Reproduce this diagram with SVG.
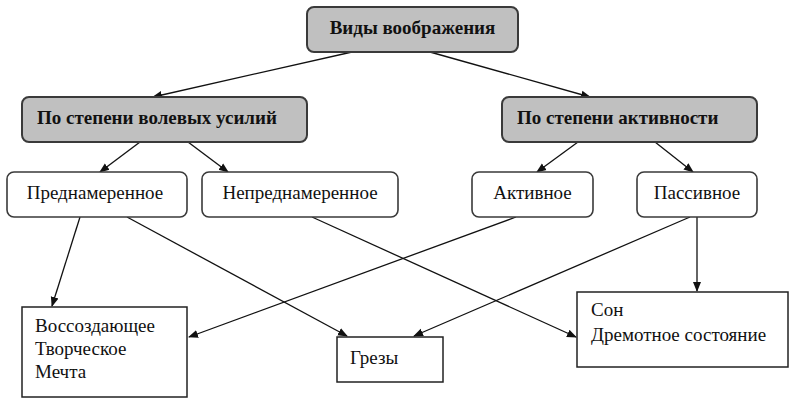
<svg xmlns="http://www.w3.org/2000/svg" width="804" height="403" viewBox="0 0 804 403">
<defs>
<marker id="ah" markerWidth="10" markerHeight="10" refX="9" refY="5" orient="auto" markerUnits="userSpaceOnUse">
<path d="M0,1 L10,5 L0,9 z" fill="#111"/>
</marker>
<style>
.g{fill:#c0c0c0;stroke:#3a3a3a;stroke-width:2}
.w{fill:#fff;stroke:#3a3a3a;stroke-width:1.6}
.s{fill:#fff;stroke:#222;stroke-width:1.5}
.c{stroke:#111;stroke-width:1.3;fill:none;marker-end:url(#ah)}
</style>
</defs>
<rect width="804" height="403" fill="#fff"/>
<g id="connectors">
<line class="c" x1="352" y1="52" x2="153" y2="97"/>
<line class="c" x1="430" y1="52" x2="590" y2="97"/>
<line class="c" x1="140" y1="142" x2="100" y2="172"/>
<line class="c" x1="188" y1="142" x2="228" y2="172"/>
<line class="c" x1="578" y1="142" x2="537" y2="172"/>
<line class="c" x1="655" y1="142" x2="693" y2="172"/>
<line class="c" x1="80" y1="217" x2="52" y2="306"/>
<line class="c" x1="127" y1="217" x2="347" y2="336"/>
<line class="c" x1="312" y1="217" x2="576" y2="337"/>
<line class="c" x1="516" y1="217" x2="189" y2="337"/>
<line class="c" x1="690" y1="217" x2="414" y2="336"/>
<line class="c" x1="697" y1="217" x2="697" y2="291"/>
</g>
<g font-family="Liberation Serif, DejaVu Serif, serif" font-size="19" fill="#111">
<g id="n0"><rect class="g" x="307" y="7" width="211" height="45" rx="7"/><text font-weight="bold" x="412.5" y="34" text-anchor="middle">Виды воображения</text></g>
<g id="n1"><rect class="g" x="22" y="97" width="285" height="45" rx="7"/><text font-weight="bold" x="37" y="124">По степени волевых усилий</text></g>
<g id="n2"><rect class="g" x="502" y="97" width="255" height="45" rx="7"/><text font-weight="bold" x="517" y="124">По степени активности</text></g>
<g id="n3"><rect class="w" x="7" y="172" width="180" height="45" rx="7"/><text x="95" y="199" text-anchor="middle">Преднамеренное</text></g>
<g id="n4"><rect class="w" x="202" y="172" width="196" height="45" rx="7"/><text x="300" y="199" text-anchor="middle">Непреднамеренное</text></g>
<g id="n5"><rect class="w" x="472" y="172" width="121" height="45" rx="7"/><text x="532.5" y="199" text-anchor="middle">Активное</text></g>
<g id="n6"><rect class="w" x="637" y="172" width="120" height="45" rx="7"/><text x="697" y="199" text-anchor="middle">Пассивное</text></g>
<g id="n7"><rect class="s" x="22" y="307" width="165" height="90"/><text x="35" y="332">Воссоздающее</text><text x="35" y="355">Творческое</text><text x="35" y="378">Мечта</text></g>
<g id="n8"><rect class="s" x="337" y="337" width="106" height="45"/><text x="350" y="364">Грезы</text></g>
<g id="n9"><rect class="s" x="577" y="292" width="211" height="75"/><text x="591" y="316">Сон</text><text x="591" y="341">Дремотное состояние</text></g>
</g>
</svg>
